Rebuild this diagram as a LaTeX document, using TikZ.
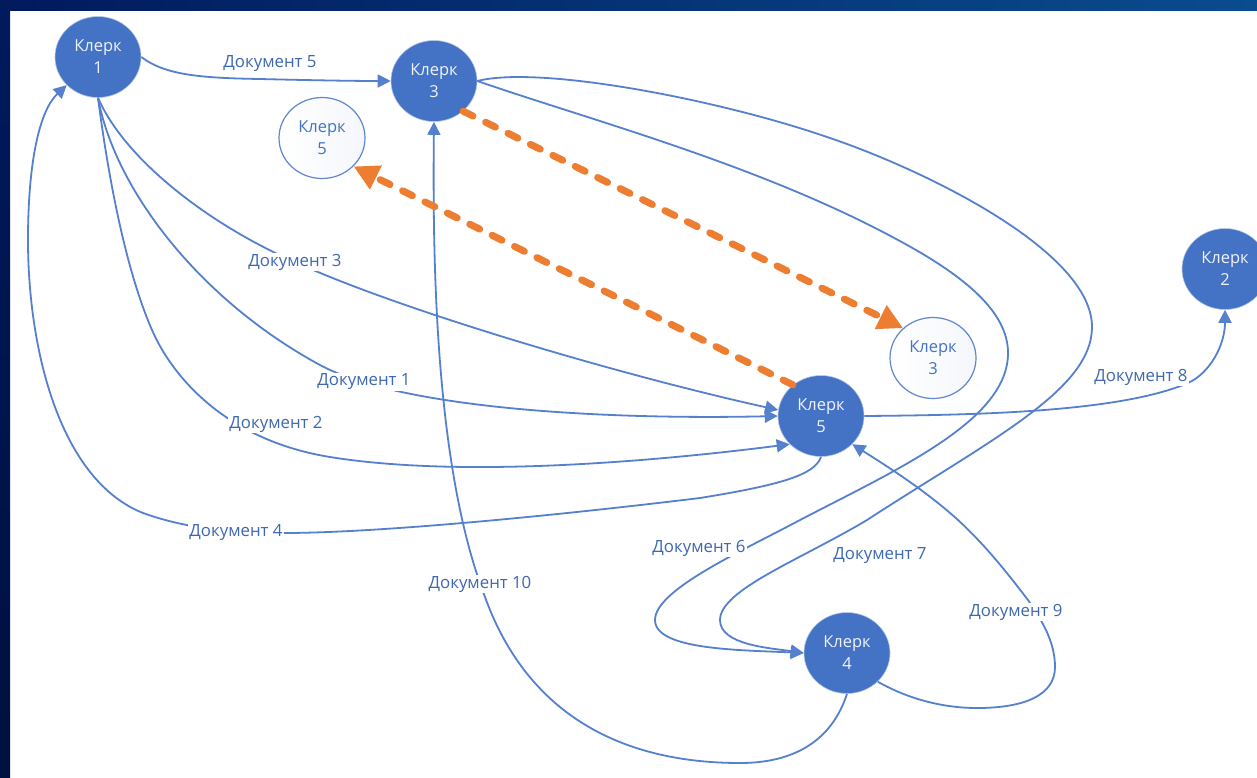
\documentclass[tikz,border=0pt]{standalone}
\usepackage{fontspec}
\setmainfont{Open Sans}
\usepackage{xcolor}
\usepackage{tikz}
\usetikzlibrary{arrows.meta,shapes.geometric}
\definecolor{klerkblue}{HTML}{4472C4}
\definecolor{linkblue}{HTML}{5580CE}
\definecolor{swaporange}{HTML}{ED7D31}
\definecolor{edgenavy}{HTML}{001A5C}
\definecolor{edgeblue}{HTML}{0A4C8E}
\definecolor{edgedark}{HTML}{00103F}
\tikzset{
  klerk/.style={ellipse,minimum width=86pt,minimum height=81pt,inner sep=0pt,align=center,
    fill=klerkblue,draw=klerkblue!40!white,line width=0.6pt,text=white!92!klerkblue,
    font=\fontsize{16.5}{22}\selectfont},
  ghost/.style={ellipse,minimum width=86pt,minimum height=81pt,inner sep=0pt,align=center,
    draw=klerkblue!85!white,line width=1.2pt,text=klerkblue,shading angle=45,
    left color=white,right color=klerkblue!6!white,
    font=\fontsize{16.5}{22}\selectfont},
  doclabel/.style={fill=white,inner sep=1pt,text=klerkblue!90!black,
    font=\fontsize{16.8}{20}\selectfont},
  link/.style={draw=linkblue,line width=1.8pt,-{Triangle[length=13pt,width=13pt]}},
  swap/.style={draw=swaporange,line width=7pt,line cap=round,dash pattern=on 11pt off 14pt,
    -{Triangle[length=25pt,width=25pt,color=swaporange]}},
}
\begin{document}
\begin{tikzpicture}[x=1pt,y=-1pt]
    \useasboundingbox (0,0) rectangle (1257,777);
    % Background
    \fill[white] (0,0) rectangle (1257,777);
    \shade[left color=edgenavy,right color=edgeblue] (0,0) rectangle (1257,10);
    \shade[top color=edgenavy,bottom color=edgedark] (0,10) rectangle (10,777);
    % Clerks
    \node[klerk] (klerkA) at (98,57) {Клерк\\1};
    \node[klerk] (klerkC) at (434,81) {Клерк\\3};
    \node[klerk] (klerkE) at (821,416) {Клерк\\5};
    \node[klerk] (klerkB) at (1225,269) {Клерк\\2};
    \node[klerk] (klerkD) at (847,653) {Клерк\\4};
    % Swapped clerks
    \node[ghost] (ghostE) at (322,138) {Клерк\\5};
    \node[ghost] (ghostC) at (933,358) {Клерк\\3};
    % Documents
    \draw[link] (klerkA.east) .. controls (165,75) and (200,78) .. (260,79) .. controls (300,80) and (350,81) .. (klerkC.west);
    \draw[link] (klerkA.south) .. controls (115,190) and (200,300) .. (320,365) .. controls (400,408) and (600,420) .. (klerkE.west);
    \draw[link] (klerkA.south) .. controls (110,190) and (128,275) .. (152,330) .. controls (172,376) and (225,440) .. (330,457) .. controls (460,478) and (650,462) .. (klerkE.222);
    \draw[link] (klerkA.south) .. controls (125,160) and (210,225) .. (295,262) .. controls (400,310) and (620,375) .. (klerkE.172);
    \draw[link] (klerkE.south) .. controls (815,475) and (780,485) .. (700,498) .. controls (560,515) and (380,533) .. (283,533) .. controls (240,533) and (190,530) .. (143,513) .. controls (60,480) and (28,350) .. (28,240) .. controls (28,160) and (40,110) .. (klerkA.222);
    \draw[link] (klerkC.east) .. controls (590,120) and (760,165) .. (898,240) .. controls (965,276) and (1008,312) .. (1008,353) .. controls (1008,420) and (900,468) .. (800,520) .. controls (740,552) and (655,590) .. (655,620) .. controls (655,650) and (740,650) .. (klerkD.west);
    \draw[link] (klerkC.east) .. controls (540,65) and (720,100) .. (827,137) .. controls (920,168) and (1092,250) .. (1092,327) .. controls (1092,390) and (990,440) .. (867,520) .. controls (800,560) and (720,590) .. (720,620) .. controls (720,645) and (770,648) .. (klerkD.west);
    \draw[link] (klerkE.east) .. controls (980,415) and (1120,412) .. (1188,383) .. controls (1210,373) and (1225,345) .. (klerkB.south);
    \draw[link] (klerkD.317) .. controls (910,700) and (945,708) .. (977,708) .. controls (1025,708) and (1055,695) .. (1055,667) .. controls (1055,640) and (1040,618) .. (1028,600) .. controls (1005,570) and (985,545) .. (958,520) .. controls (925,490) and (885,465) .. (klerkE.318);
    \draw[link] (klerkD.south) .. controls (832,740) and (795,763) .. (740,763) .. controls (650,763) and (535,735) .. (485,597) .. controls (440,480) and (432,300) .. (klerkC.south);
    % Swaps
    \draw[swap] (klerkC.314) -- (ghostC.135);
    \draw[swap] (klerkE.132) -- (ghostE.318);
    % Labels
    \node[doclabel] (docA) at (364,382) {Документ 1};
    \node[doclabel] (docB) at (276,424) {Документ 2};
    \node[doclabel] (docC) at (295,262) {Документ 3};
    \node[doclabel] (docD) at (236,532) {Документ 4};
    \node[doclabel] (docE) at (270,64) {Документ 5};
    \node[doclabel] (docF) at (699,548) {Документ 6};
    \node[doclabel] (docG) at (880,556) {Документ 7};
    \node[doclabel] (docH) at (1141,377) {Документ 8};
    \node[doclabel] (docI) at (1016,612) {Документ 9};
    \node[doclabel] (docJ) at (480,584) {Документ 10};
\end{tikzpicture}
\end{document}
